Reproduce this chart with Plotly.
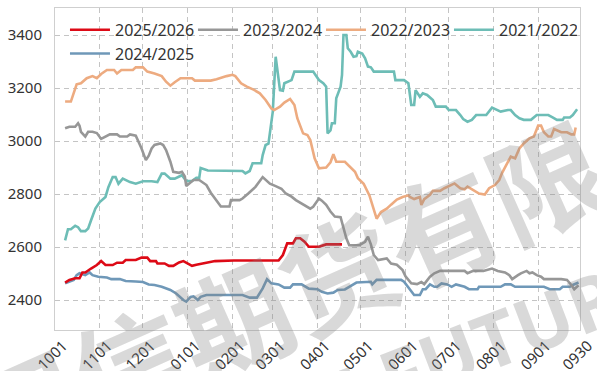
import plotly.graph_objects as go

# ---------------- data (MMDD, value) ----------------
red_dates = ["1008","1011","1015","1018","1020","1022","1026","1030","1102","1105","1110","1113","1117","1119","1126","1130","1204","1206","1210","1211","1216","1219","1222","1226","1229","0101","0104","0107","0111","0115","0120","0202","0305","0308","0311","0315","0317","0320","0323","0326","0402","0407","0418"]
red_vals = [2466,2476,2482,2482,2504,2504,2519,2532,2547,2532,2532,2541,2541,2551,2551,2560,2560,2547,2547,2538,2538,2529,2529,2542,2547,2538,2529,2533,2538,2542,2547,2549,2549,2570,2614,2614,2633,2633,2620,2601,2601,2610,2610]

blue_dates = ["1008","1014","1016","1018","1022","1025","1027","1031","1106","1109","1115","1119","1126","1201","1205","1209","1214","1220","1224","1229","1231","0103","0105","0108","0110","0114","0208","0213","0218","0220","0222","0225","0228","0305","0309","0313","0315","0321","0326","0401","0404","0408","0412","0415","0420","0423","0428","0508","0509","0512","0529","0531","0604","0607","0611","0613","0615","0618","0621","0623","0626","0630","0703","0706","0712","0715","0721","0722","0806","0809","0813","0816","0905","0909","0916","0918","0923","0925","0929"]
blue_vals = [2463,2476,2494,2501,2494,2504,2494,2488,2485,2479,2479,2472,2470,2468,2459,2457,2450,2438,2425,2400,2394,2412,2414,2400,2412,2419,2419,2409,2409,2425,2444,2479,2463,2459,2447,2447,2459,2459,2443,2441,2431,2425,2428,2438,2440,2450,2466,2469,2459,2476,2476,2469,2438,2419,2419,2441,2441,2459,2450,2450,2463,2459,2450,2459,2450,2441,2441,2450,2450,2459,2459,2450,2450,2441,2441,2450,2450,2457,2466]

gray_dates = ["1008","1011","1015","1017","1018","1019","1022","1024","1027","1030","1102","1105","1108","1113","1115","1120","1122","1126","1128","1130","1203","1205","1207","1209","1213","1215","1217","1220","1222","1226","1228","1230","1231","0103","0105","0109","0114","0117","0122","0124","0130","0131","0206","0208","0212","0217","0222","0224","0227","0303","0307","0310","0314","0317","0321","0327","0329","0402","0404","0407","0410","0413","0417","0419","0421","0423","0430","0504","0506","0508","0510","0513","0519","0522","0526","0530","0601","0605","0609","0612","0614","0618","0621","0625","0712","0714","0718","0725","0731","0804","0809","0812","0814","0818","0820","0824","0826","0828","0831","0903","0905","0917","0921","0924","0926","0929"]
gray_vals = [3048,3054,3054,3067,3058,3035,3017,3035,3035,3030,3008,3017,3025,3025,3017,3017,3025,3020,2998,2972,2928,2945,2972,2985,2991,2985,2966,2922,2884,2880,2884,2866,2830,2845,2853,2853,2834,2805,2766,2753,2753,2777,2777,2783,2802,2827,2864,2853,2839,2830,2820,2802,2790,2777,2764,2745,2752,2783,2775,2759,2734,2715,2713,2677,2633,2607,2607,2620,2639,2610,2570,2551,2557,2538,2533,2513,2490,2463,2460,2468,2460,2488,2501,2510,2510,2501,2510,2510,2519,2510,2504,2494,2479,2494,2501,2510,2501,2504,2494,2488,2479,2479,2476,2457,2441,2456]

orange_dates = ["1008","1012","1016","1019","1023","1027","1030","1102","1106","1111","1113","1116","1124","1126","1201","1204","1209","1214","1217","1220","1223","1227","0104","0106","0117","0121","0128","0201","0203","0207","0211","0216","0220","0224","0228","0302","0306","0309","0313","0316","0318","0322","0325","0327","0330","0402","0407","0410","0412","0414","0420","0422","0427","0429","0503","0507","0512","0515","0519","0522","0526","0530","0603","0604","0607","0611","0612","0614","0618","0620","0625","0628","0703","0705","0709","0712","0714","0718","0722","0726","0729","0802","0805","0807","0810","0811","0813","0816","0819","0822","0826","0829","0901","0903","0905","0908","0910","0912","0917","0921","0924","0926","0927"]
orange_vals = [3149,3149,3214,3218,3237,3245,3237,3253,3268,3268,3255,3268,3268,3278,3278,3262,3255,3245,3224,3209,3222,3237,3237,3228,3228,3233,3245,3250,3245,3218,3205,3193,3180,3155,3123,3117,3130,3145,3159,3136,3086,3029,3023,3004,2935,2897,2900,2920,2950,2922,2922,2912,2884,2860,2839,2795,2707,2732,2745,2760,2779,2789,2795,2789,2781,2789,2759,2781,2797,2812,2812,2822,2834,2840,2822,2818,2828,2815,2802,2798,2822,2834,2853,2880,2910,2922,2941,2935,2972,2991,3010,3017,3058,3058,3033,3017,3017,3045,3033,3033,3025,3025,3051]

teal_dates = ["1008","1010","1012","1015","1017","1019","1022","1024","1026","1029","1101","1105","1107","1110","1112","1114","1117","1122","1126","1201","1207","1211","1214","1216","1220","1223","1228","1231","0104","0107","0109","0110","0115","0208","0210","0213","0215","0221","0222","0224","0226","0228","0301","0303","0304","0306","0308","0309","0314","0316","0329","0402","0405","0407","0408","0410","0411","0413","0414","0417","0418","0419","0421","0422","0424","0426","0428","0429","0502","0504","0506","0508","0510","0524","0525","0531","0603","0605","0607","0608","0611","0613","0616","0620","0622","0629","0701","0706","0709","0711","0714","0717","0720","0727","0731","0803","0806","0811","0813","0816","0819","0822","0827","0831","0908","0911","0914","0918","0919","0923","0925","0928"]
teal_vals = [2625,2667,2667,2680,2675,2660,2660,2670,2701,2745,2770,2789,2826,2864,2864,2839,2858,2845,2839,2848,2848,2845,2877,2877,2858,2858,2871,2849,2849,2861,2861,2898,2889,2887,2878,2887,2916,2916,2947,2985,2990,3067,3111,3318,3274,3192,3190,3218,3230,3262,3262,3230,3218,3205,3029,3040,3067,3067,3161,3205,3250,3400,3400,3350,3337,3318,3320,3337,3330,3312,3281,3278,3262,3262,3230,3230,3218,3136,3136,3192,3167,3180,3174,3155,3130,3130,3117,3117,3098,3083,3073,3080,3098,3098,3126,3117,3111,3117,3117,3098,3086,3080,3080,3098,3098,3089,3080,3080,3089,3089,3098,3120]

tick_labels = ["1001","1101","1201","0101","0201","0301","0401","0501","0601","0701","0801","0901","0930"]
y_ticks = [2400, 2600, 2800, 3000, 3200, 3400]


def to_date(mmdd):
    m = int(mmdd[:2])
    year = 2024 if m >= 10 else 2025
    return f"{year}-{mmdd[:2]}-{mmdd[2:]}"


series = [
    # name, dates, values, color, legend rank  (drawn in this order)
    ("2024/2025", blue_dates, blue_vals, "#6F98B8", 5),
    ("2021/2022", teal_dates, teal_vals, "#6DBDB6", 4),
    ("2022/2023", orange_dates, orange_vals, "#EDAB80", 3),
    ("2023/2024", gray_dates, gray_vals, "#979797", 2),
    ("2025/2026", red_dates, red_vals, "#DD0A16", 1),
]

fig = go.Figure()
for name, ds, vs, color, rank in series:
    fig.add_trace(go.Scatter(
        x=[to_date(d) for d in ds], y=vs, name=name, mode="lines",
        line=dict(color=color, width=2.6), legendrank=rank,
    ))

font_family = "Noto Sans"
fig.update_layout(
    width=597, height=371,
    margin=dict(l=55, r=17, t=8, b=41),
    paper_bgcolor="white", plot_bgcolor="white",
    font=dict(family=font_family, size=15, color="#333333"),
    showlegend=True,
    legend=dict(
        orientation="h", x=0.019, y=0.985, xanchor="left", yanchor="top",
        bgcolor="rgba(0,0,0,0)", font=dict(size=16, color="#333333"),
        entrywidth=73, entrywidthmode="pixels", itemwidth=40,
        tracegroupgap=0,
    ),
    xaxis=dict(
        type="date", range=["2024-10-01", "2025-09-30"], automargin=False,
        tickvals=[to_date(t) for t in tick_labels], ticktext=tick_labels,
        tickangle=-45, ticklabelshift=8, showgrid=True, gridcolor="#c4c4c4",
        griddash="5px,4px", gridwidth=1, showline=True, linecolor="#cfcfcf",
        linewidth=1, mirror=True, ticks="", tickfont=dict(size=15), zeroline=False,
    ),
    yaxis=dict(
        range=[2287, 3502], tickvals=y_ticks, automargin=False,
        showgrid=True, gridcolor="#c4c4c4", griddash="5px,4px", gridwidth=1,
        showline=True, linecolor="#cfcfcf", linewidth=1, mirror=True,
        ticks="outside", ticklen=9, tickcolor="rgba(0,0,0,0)",
        tickfont=dict(size=15), zeroline=False,
    ),
)

# watermark of the source
fig.add_annotation(
    text="国信期货有限公司", xref="paper", yref="paper", x=0.635, y=0.26,
    xanchor="center", yanchor="middle",
    showarrow=False, textangle=-24,
    font=dict(family="Noto Sans CJK SC", size=114, color="rgba(128,128,128,0.3)", weight=700),
)
fig.add_annotation(
    text="GUOSEN FUTURES", xref="paper", yref="paper", x=0.62, y=-0.16,
    xanchor="center", yanchor="middle",
    showarrow=False, textangle=-21,
    font=dict(family="Noto Sans", size=76, color="rgba(128,128,128,0.3)", weight=700),
)

fig.write_html("out.html", config={"displayModeBar": False},
               post_script="document.body.style.margin='0';")
